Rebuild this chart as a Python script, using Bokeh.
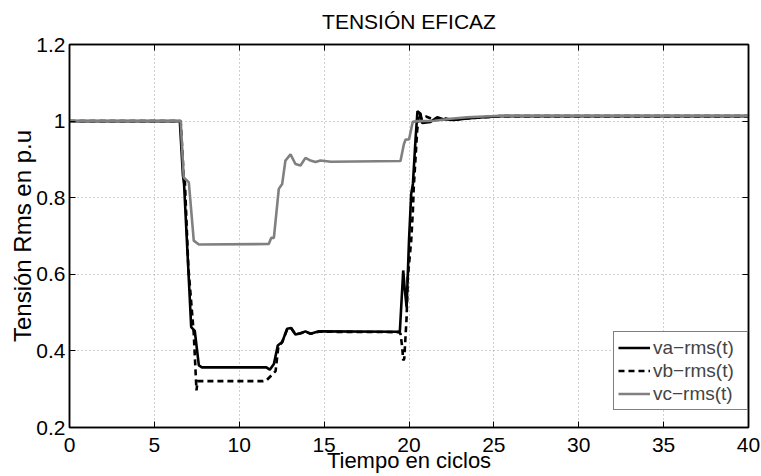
from bokeh.plotting import figure
from bokeh.models import Range1d, LinearAxis, FixedTicker, Legend, LegendItem
from bokeh.embed import file_html
from bokeh.resources import INLINE

# ---------------- data ----------------
title_text = "TENSIÓN EFICAZ"
x_label = "Tiempo en ciclos"
y_label = "Tensión Rms en p.u"
x_ticks = [0, 5, 10, 15, 20, 25, 30, 35, 40]
y_ticks = [0.2, 0.4, 0.6, 0.8, 1.0, 1.2]
y_tick_labels = ["0.2", "0.4", "0.6", "0.8", "1", "1.2"]
series_names = ["va\u2212rms(t)", "vb\u2212rms(t)", "vc\u2212rms(t)"]

t_va = [0, 6.5, 6.68, 6.75, 7.17, 7.38, 7.62, 7.8, 11.6, 11.8, 12.04, 12.27, 12.53,
        12.82, 13.06, 13.31, 13.61, 13.9, 14.2, 14.69, 19.46, 19.66, 19.74, 19.86,
        20.0, 20.13, 20.23, 20.38, 20.5, 20.68, 20.77, 21.27, 21.66, 22.05, 22.64,
        23.43, 24.4, 25.4, 40]
v_va = [1.0, 1.0, 0.86, 0.835, 0.462, 0.452, 0.362, 0.357, 0.357, 0.351, 0.366, 0.414,
        0.423, 0.458, 0.460, 0.443, 0.446, 0.451, 0.445, 0.451, 0.450, 0.610, 0.566,
        0.514, 0.688, 0.810, 0.836, 0.949, 1.026, 1.019, 0.995, 0.998, 1.010, 1.004,
        1.003, 1.007, 1.010, 1.013, 1.013]

t_vb = [0, 6.55, 6.72, 6.8, 7.0, 7.32, 7.48, 7.55, 11.4, 11.6, 12.14, 12.3, 12.53,
        12.82, 13.06, 13.31, 13.61, 13.9, 14.2, 14.69, 19.4, 19.5, 19.6, 19.66, 19.72,
        19.86, 19.93, 20.13, 20.23, 20.28, 20.48, 20.6, 20.75, 21.0, 21.5, 22.0, 22.6,
        23.4, 24.4, 25.4, 40]
v_vb = [1.0, 1.0, 0.86, 0.84, 0.62, 0.445, 0.297, 0.321, 0.321, 0.323, 0.347, 0.41,
        0.423, 0.456, 0.459, 0.443, 0.446, 0.45, 0.445, 0.45, 0.449, 0.445, 0.41, 0.375,
        0.38, 0.488, 0.592, 0.688, 0.767, 0.827, 0.975, 1.02, 1.005, 1.012, 1.003,
        1.008, 1.003, 1.007, 1.010, 1.013, 1.013]

t_vc = [0, 6.55, 6.73, 7.03, 7.32, 7.62, 11.74, 11.88, 12.04, 12.33, 12.53, 12.72,
        13.02, 13.31, 13.61, 13.9, 14.2, 14.49, 14.79, 15.4, 19.5, 19.7, 19.8, 20.0,
        20.22, 20.5, 21.5, 22.44, 23.43, 24.4, 25.4, 40]
v_vc = [1.0, 1.0, 0.853, 0.84, 0.688, 0.678, 0.679, 0.695, 0.695, 0.823, 0.836, 0.897,
        0.913, 0.888, 0.884, 0.904, 0.897, 0.893, 0.897, 0.894, 0.896, 0.94, 0.952,
        0.952, 0.998, 1.0, 1.001, 1.006, 1.010, 1.012, 1.014, 1.014]

FONT = "Liberation Sans"

p = figure(width=761, height=476, output_backend="svg", toolbar_location=None,
           x_range=Range1d(0, 40), y_range=Range1d(0.2, 1.2),
           min_border_left=69, min_border_right=13, min_border_top=44, min_border_bottom=49)

p.outline_line_color = "black"
p.outline_line_width = 1.5
p.background_fill_color = "white"
p.border_fill_color = "white"

# axes
for ax in [p.xaxis[0], p.yaxis[0]]:
    ax.major_tick_in = 6
    ax.major_tick_out = 0
    ax.minor_tick_line_color = None
    ax.axis_line_color = "black"
    ax.axis_line_width = 1.5
    ax.major_tick_line_color = "black"
    ax.major_label_text_font = FONT
    ax.major_label_text_font_size = "21px"
    ax.major_label_text_color = "black"
    ax.axis_label_text_font = FONT
    ax.axis_label_text_font_style = "normal"
    ax.axis_label_text_color = "black"

p.xaxis[0].ticker = FixedTicker(ticks=x_ticks)
p.yaxis[0].ticker = FixedTicker(ticks=y_ticks)
p.yaxis[0].major_label_overrides = dict(zip(y_ticks, y_tick_labels))
p.xaxis[0].major_label_standoff = 10
p.yaxis[0].major_label_standoff = 4

p.xaxis[0].axis_label = x_label
p.xaxis[0].axis_label_text_font_size = "22px"
p.xaxis[0].axis_label_standoff = -7
p.yaxis[0].axis_label = y_label
p.yaxis[0].axis_label_text_font_size = "24px"
p.yaxis[0].axis_label_standoff = -3

# top axis carries the chart title as its label
top_ax = LinearAxis(ticker=FixedTicker(ticks=x_ticks), major_label_text_font_size="1px",
                    major_label_text_color=None, major_label_text_alpha=0,
                    major_tick_in=6, major_tick_out=0, minor_tick_line_color=None,
                    axis_line_color="black", axis_line_width=1.5, major_label_standoff=0,
                    axis_label=title_text, axis_label_text_font=FONT,
                    axis_label_text_font_size="21px", axis_label_text_font_style="normal",
                    axis_label_text_color="black", axis_label_standoff=12)
right_ax = LinearAxis(ticker=FixedTicker(ticks=y_ticks), major_label_text_font_size="1px",
                      major_label_text_color=None, major_label_text_alpha=0,
                      major_tick_in=6, major_tick_out=0, minor_tick_line_color=None,
                      axis_line_color="black", axis_line_width=1.5, major_label_standoff=0)
p.add_layout(top_ax, "above")
p.add_layout(right_ax, "right")

p.xgrid.ticker = FixedTicker(ticks=x_ticks)
p.ygrid.ticker = FixedTicker(ticks=y_ticks)
for g in [p.xgrid[0], p.ygrid[0]]:
    g.grid_line_color = "#a0a0a0"
    g.grid_line_dash = "1 3"
    g.grid_line_width = 1

r1 = p.line(t_va, v_va, line_color="black", line_width=2.6)
r2 = p.line(t_vb, v_vb, line_color="black", line_width=2.6, line_dash="6 4")
r3 = p.line(t_vc, v_vc, line_color="#808080", line_width=2.6)

legend = Legend(items=[LegendItem(label=series_names[0], renderers=[r1]),
                       LegendItem(label=series_names[1], renderers=[r2]),
                       LegendItem(label=series_names[2], renderers=[r3])],
                location=(544, 17))
legend.label_text_font = FONT
legend.label_text_font_size = "19px"
legend.label_height = 23
legend.glyph_height = 23
legend.glyph_width = 32
legend.label_width = 90
legend.label_standoff = 3
legend.spacing = 0
legend.padding = 4
legend.margin = 0
legend.border_line_color = "black"
legend.border_line_width = 1
legend.background_fill_alpha = 1
p.add_layout(legend)

open("out.html", "w").write(file_html(p, INLINE))
